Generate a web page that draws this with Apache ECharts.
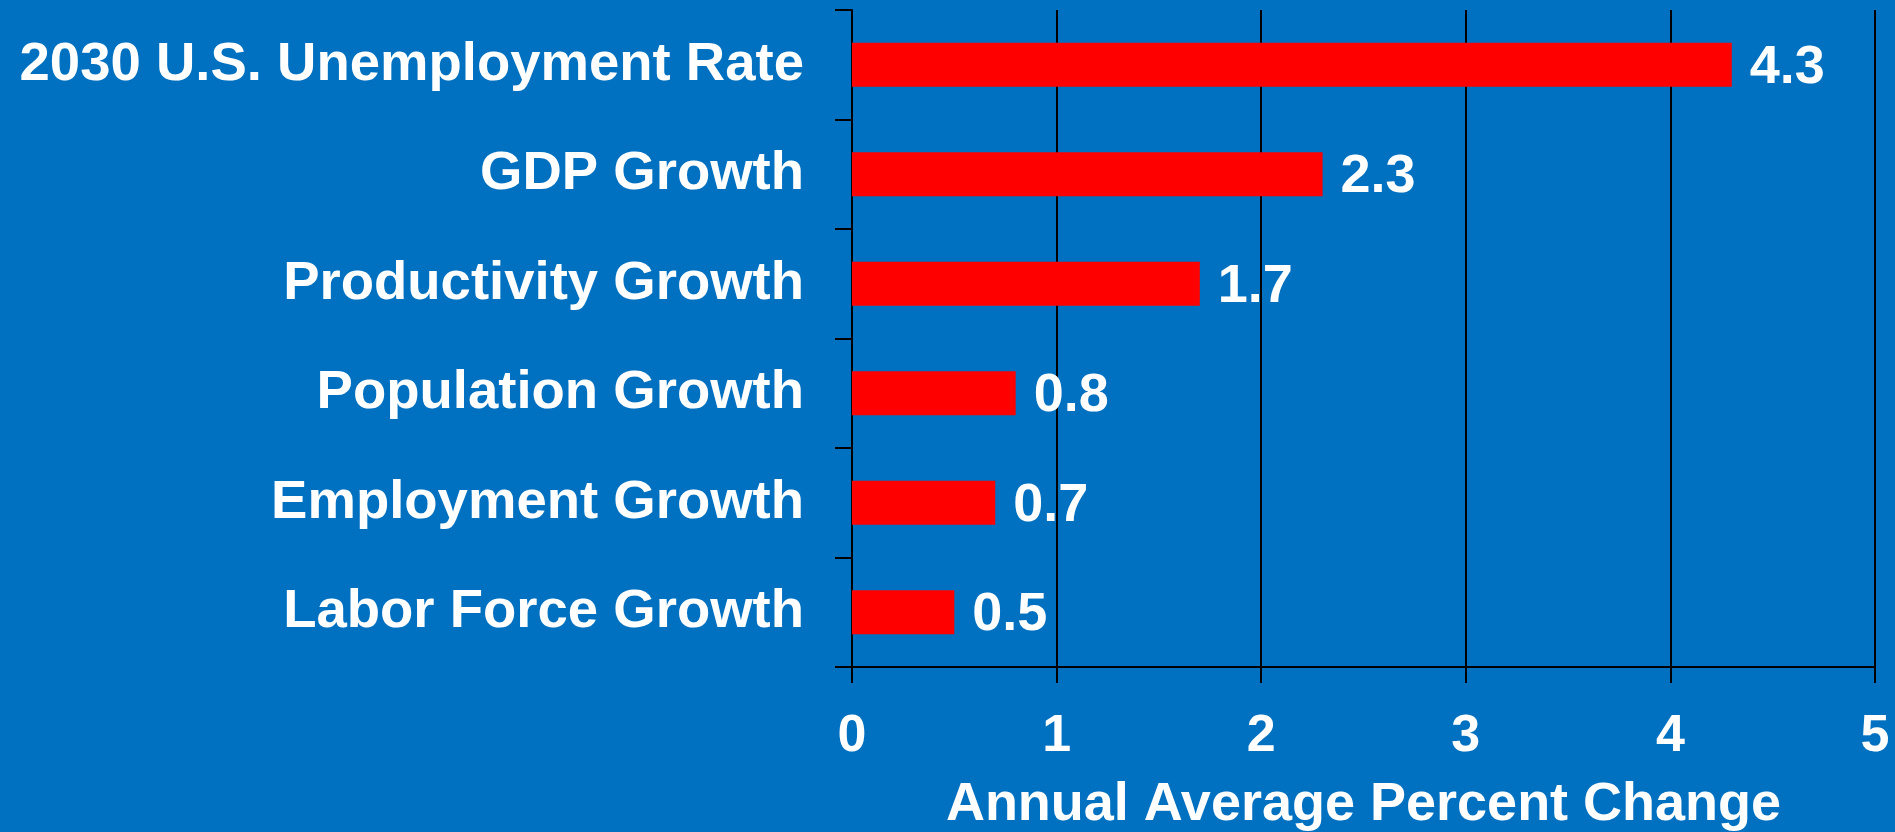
<!DOCTYPE html>
<html>
<head>
<meta charset="utf-8">
<script src="https://cdn.jsdelivr.net/npm/echarts@6/dist/echarts.min.js"></script>
<style>
  html, body { margin: 0; padding: 0; background: #0070C0; }
  #chart { width: 1895px; height: 832px; }
</style>
</head>
<body>
<div id="chart"></div>
<script>
// categories (top to bottom) and their values
var categories = [
  '2030 U.S. Unemployment Rate',
  'GDP Growth',
  'Productivity Growth',
  'Population Growth',
  'Employment Growth',
  'Labor Force Growth'
];
var values = [4.3, 2.3, 1.7, 0.8, 0.7, 0.5];
var xTicks = [0, 1, 2, 3, 4, 5];

var font = '"Liberation Sans", Arial, sans-serif';

var myChart = echarts.init(document.getElementById('chart'));
var option = {
  backgroundColor: '#0070C0',
  animation: false,
  grid: { left: 852, right: 20, top: 10, bottom: 165, containLabel: false, outerBoundsMode: 'none' },
  xAxis: {
    type: 'value',
    min: xTicks[0],
    max: xTicks[xTicks.length - 1],
    interval: 1,
    name: 'Annual Average Percent Change',
    nameLocation: 'middle',
    nameGap: 111,
    nameTextStyle: { color: '#fff', fontSize: 54, fontWeight: 'bold', fontFamily: font },
    axisLine: { show: true, lineStyle: { color: '#000', width: 2 } },
    axisTick: { show: true, length: 16, lineStyle: { color: '#000', width: 2 } },
    axisLabel: { color: '#fff', fontSize: 52, fontWeight: 'bold', fontFamily: font, margin: 44 },
    splitLine: { show: true, lineStyle: { color: '#000', width: 2 } }
  },
  yAxis: {
    type: 'category',
    inverse: true,
    data: categories,
    axisLine: { show: true, lineStyle: { color: '#000', width: 2 } },
    axisTick: { show: true, length: 17, lineStyle: { color: '#000', width: 2 } },
    axisLabel: { color: '#fff', fontSize: 54.5, fontWeight: 'bold', fontFamily: font, margin: 48 },
    splitLine: { show: false }
  },
  series: [{
    type: 'bar',
    data: values,
    barCategoryGap: '60%',
    itemStyle: { color: '#FF0000' },
    label: {
      show: true,
      position: 'right',
      distance: 18,
      color: '#fff',
      fontSize: 54,
      fontWeight: 'bold',
      fontFamily: font,
      offset: [0, 3],
      formatter: function (p) { return p.value.toFixed(1); }
    }
  }]
};
myChart.setOption(option);
window.onresize = function () { myChart.resize(); };
</script>
</body>
</html>
